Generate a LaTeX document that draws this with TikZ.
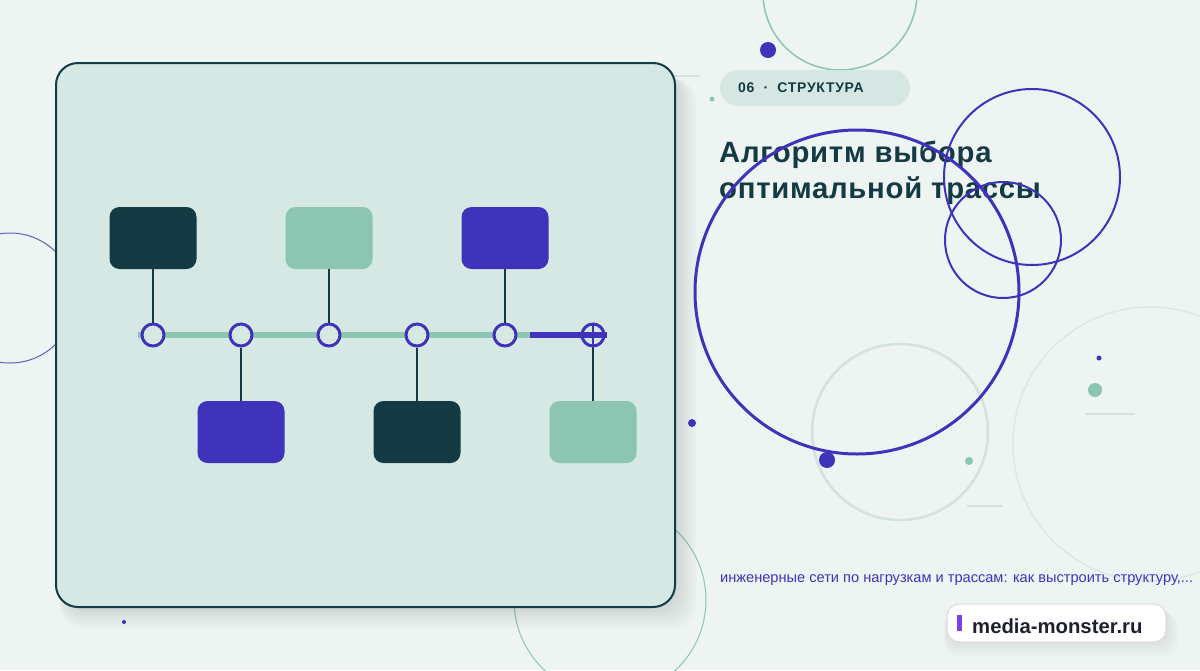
\documentclass[tikz,border=0pt]{standalone}
\usepackage{fontspec}
\setmainfont{Liberation Sans}
\definecolor{bgc}{HTML}{EEF4F1}
\definecolor{panelc}{HTML}{D6E8E3}
\definecolor{darkc}{HTML}{143A44}
\definecolor{greenc}{HTML}{8CC5B2}
\definecolor{purc}{HTML}{3F33BB}
\definecolor{faintc}{HTML}{D3E2DD}
\definecolor{pillc}{HTML}{D6E6E2}
\definecolor{violc}{HTML}{7B3FE4}
\definecolor{brandc}{HTML}{1E2030}
\begin{document}
\begin{tikzpicture}[x=1pt,y=-1pt,
  card/.style={rounded corners=10pt,minimum width=87pt,minimum height=62pt,inner sep=0pt,draw=none},
  ring/.style={circle,draw=purc,line width=3pt,fill=panelc,minimum size=22pt,inner sep=0pt},
  stem/.style={draw=darkc,line width=2.6pt},
  titlefont/.style={font=\bfseries\fontsize{29.3}{34}\selectfont\addfontfeature{LetterSpace=2.5}}]
\useasboundingbox (0,0) rectangle (1200,670);
\clip (0,0) rectangle (1200,670);
\fill[bgc] (0,0) rectangle (1200,670);
% background decorations behind panel
\draw[purc!80,line width=1pt] (10,298) circle (65);
\draw[greenc,line width=1pt] (610,600) circle (96);
\draw[greenc,line width=1.5pt] (840,-7) circle (77);
\fill[purc] (768,50) circle (8);
\draw[faintc,line width=1.2pt] (660,76) -- (700,76);
\fill[greenc] (712,99) circle (2.5);
\fill[purc] (124,622) circle (2);
% shadow
\foreach \i in {1,...,10}{
  \fill[black,opacity=0.01,rounded corners=24pt] (56-\i*0.5+8,63+\i*1+6) rectangle (675+\i*2.2,607+\i*2.2);
}
% panel
\node[draw=darkc,line width=2pt,fill=panelc,rounded corners=22pt,minimum width=619pt,minimum height=544pt,inner sep=0pt] (panel) at (365.5,335) {};
% timeline
\coordinate (ls) at (138,335);
\coordinate (lm) at (530,335);
\coordinate (le) at (607,335);
\draw[greenc,line width=6pt] (ls) -- (lm);
\draw[purc,line width=6pt] (lm) -- (le);
\node[ring] (c1) at (153,335) {};
\node[ring] (c2) at (241,335) {};
\node[ring] (c3) at (329,335) {};
\node[ring] (c4) at (417,335) {};
\node[ring] (c5) at (505,335) {};
\node[ring,fill=none] (c6) at (593,335) {};
\draw[purc,line width=6pt] (c6.west) -- (le);
\draw[purc,line width=2.6pt] (c6.north) -- (c6.south);
% cards
\node[card,fill=darkc] (b1) at (153,238) {};
\node[card,fill=greenc] (b3) at (329,238) {};
\node[card,fill=purc] (b5) at (505,238) {};
\node[card,fill=purc] (b2) at (241,432) {};
\node[card,fill=darkc] (b4) at (417,432) {};
\node[card,fill=greenc] (b6) at (593,432) {};
\draw[stem] (b1.south) -- (c1.north);
\draw[stem] (b3.south) -- (c3.north);
\draw[stem] (b5.south) -- (c5.north);
\draw[stem] (c2.south) -- (b2.north);
\draw[stem] (c4.south) -- (b4.north);
\draw[stem] (c6.south) -- (b6.north);
% tag
\node[fill=pillc,rounded corners=18pt,minimum width=190pt,minimum height=36pt,inner sep=0pt] (tag) at (815,88) {};
\node[anchor=base west,inner sep=0pt,font=\bfseries\fontsize{14}{16}\selectfont\addfontfeature{LetterSpace=5},text=darkc] (tagt) at (738,92) {06~~·~~СТРУКТУРА};
% title
\node[anchor=base west,inner sep=0pt,titlefont,text=darkc] (t1) at (719,162) {Алгоритм выбора};
\node[anchor=base west,inner sep=0pt,titlefont,text=darkc] (t2) at (719,198) {оптимальной трассы};
% circles right
\draw[faintc,line width=2.5pt] (900,432) circle (88);
\draw[faintc!80,line width=1.5pt] (1150,444) circle (137);
\draw[purc,line width=3pt] (857,292) circle (162);
\draw[purc,line width=2pt] (1032,177) circle (88);
\draw[purc,line width=2pt] (1003,240) circle (58);
\fill[purc] (827,460) circle (8);
\fill[purc] (692,423) circle (4);
\fill[greenc] (969,461) circle (4);
\fill[purc] (1099,358) circle (2.5);
\fill[greenc] (1095,390) circle (7);
\draw[faintc,line width=1.2pt] (1085,414) -- (1135,414);
\draw[faintc,line width=1.2pt] (967,506) -- (1003,506);
% subtitle
\node[anchor=base west,inner sep=0pt,font=\fontsize{14.6}{16}\selectfont,text=purc] (sub) at (720,582) {инженерные сети по нагрузкам и трассам: как выстроить структуру,...};
% brand
\foreach \i in {1,...,6}{
  \fill[black,opacity=0.012,rounded corners=14pt] (947-\i*0.5,604+\i*1.5) rectangle (1166+\i*2,642+\i*2.5);
}
\node[fill=white,draw=black!15,line width=1pt,rounded corners=12pt,minimum width=219pt,minimum height=38pt,inner sep=0pt] (brand) at (1056.5,623) {};
\fill[violc] (957,615) rectangle (962,631);
\node[anchor=base west,inner sep=0pt,font=\bfseries\fontsize{20.3}{24}\selectfont,text=brandc] (brandt) at (972,633) {media-monster.ru};
\end{tikzpicture}
\end{document}
